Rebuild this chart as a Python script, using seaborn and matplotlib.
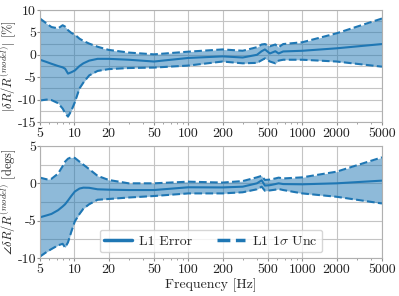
import matplotlib
matplotlib.use("Agg")
import matplotlib.pyplot as plt
import numpy as np
import seaborn as sns
from matplotlib.lines import Line2D
from matplotlib.ticker import FixedLocator, LogLocator, MultipleLocator, NullFormatter

# values
freq = [5, 5.7, 6.3, 7.2, 7.9, 8.3, 8.8, 9.4, 10.1, 11.1, 12, 13.5, 16, 20, 30,
        50, 100, 200, 300, 400, 440, 470, 520, 580, 620, 680, 1000, 2000, 5000]

mag_err = [-1.1, -1.6, -2.0, -2.5, -2.8, -3.1, -4.2, -3.9, -3.5, -2.5, -1.9, -1.3, -0.9, -0.9, -1.1,
           -1.5, -0.7, -0.35, -0.6, 0.0, 0.8, 1.2, 0.3, 0.8, 0.3, 0.75, 0.9, 1.45, 2.4]
mag_hi = [8.1, 7.0, 6.2, 5.9, 6.6, 6.3, 5.5, 4.9, 4.5, 3.6, 3.1, 2.5, 1.8, 1.1, 0.5,
          0.1, 0.7, 1.2, 0.9, 1.7, 2.3, 2.4, 1.9, 2.3, 1.7, 2.4, 2.8, 4.8, 8.1]
mag_lo = [-10.2, -10.0, -10.1, -10.8, -12.0, -13.0, -13.8, -12.5, -10.6, -7.5, -6.2, -4.6, -3.6, -3.2, -2.95,
          -2.85, -2.4, -1.5, -1.9, -1.8, -1.2, -0.8, -1.5, -1.9, -1.3, -1.1, -1.1, -1.5, -2.65]

ph_err = [-4.55, -4.3, -4.1, -3.6, -3.1, -2.8, -2.3, -1.7, -1.1, -0.7, -0.58, -0.6, -0.8, -0.85, -0.9,
          -0.9, -0.53, -0.55, -0.45, 0.0, 0.4, -0.3, -0.25, -0.1, 0.0, -0.1, -0.13, 0.0, 0.36]
ph_hi = [0.76, 0.54, 0.6, 1.3, 2.3, 2.9, 3.3, 3.48, 3.4, 2.9, 2.5, 1.9, 1.0, 0.45, 0.0,
         0.0, 0.22, 0.1, 0.3, 0.8, 1.0, 0.45, 0.5, 0.65, 0.76, 0.65, 0.8, 1.56, 3.48]
ph_lo = [-9.8, -9.2, -8.8, -8.3, -8.1, -8.6, -7.9, -6.5, -5.1, -4.1, -3.4, -2.8, -2.2, -2.1, -1.9,
         -1.7, -1.35, -1.35, -1.2, -0.8, -0.45, -1.0, -0.95, -0.85, -0.76, -0.9, -1.35, -1.8, -2.7]

xticks = [5, 10, 20, 50, 100, 200, 500, 1000, 2000, 5000]
xtick_labels = [str(t) for t in xticks]

BLUE = "#1f77b4"
GRID = "#c4c4c4"

sns.set_style("whitegrid")
plt.rcParams.update({
    "font.family": "serif",
    "font.serif": ["cmr10", "DejaVu Serif"],
    "mathtext.fontset": "cm",
    "axes.formatter.use_mathtext": False,
    "axes.unicode_minus": False,
    "font.size": 10,
    "axes.edgecolor": "#b0b0b0",
    "axes.linewidth": 0.8,
    "xtick.bottom": True,
    "ytick.left": True,
    "xtick.color": "#909090",
    "ytick.color": "#909090",
    "xtick.labelcolor": "#222222",
    "ytick.labelcolor": "#222222",
    "xtick.major.size": 2,
    "ytick.major.size": 2,
    "xtick.minor.size": 1.5,
    "ytick.minor.size": 0,
})


def draw_panel(ax, mid, lo, hi, ylim, yticks, ylabel):
    ax.fill_between(freq, lo, hi, color=BLUE, alpha=0.5, lw=0)
    sns.lineplot(x=freq, y=mid, ax=ax, color=BLUE, lw=1.5)
    sns.lineplot(x=freq, y=hi, ax=ax, color=BLUE, lw=1.5, linestyle="--")
    sns.lineplot(x=freq, y=lo, ax=ax, color=BLUE, lw=1.5, linestyle="--")
    ax.set_xscale("log")
    ax.set_xlim(5, 5000)
    ax.set_ylim(ylim)
    ax.xaxis.set_major_locator(FixedLocator(xticks))
    ax.set_xticklabels(xtick_labels)
    ax.xaxis.set_minor_locator(LogLocator(base=10, subs=np.arange(2, 10)))
    ax.xaxis.set_minor_formatter(NullFormatter())
    ax.set_yticks(yticks)
    ax.set_yticklabels([str(t) for t in yticks])
    ax.yaxis.set_minor_locator(MultipleLocator(2.5))
    ax.grid(which="major", axis="both", color=GRID, lw=0.8)
    ax.grid(which="minor", axis="y", color=GRID, lw=0.8)
    ax.set_ylabel(ylabel, fontsize=9)
    ax.yaxis.set_label_coords(-0.061, 0.5)
    ax.tick_params(axis="x", labelsize=10, pad=2)
    ax.tick_params(axis="y", labelsize=10, pad=0.8)


fig = plt.figure(figsize=(3.99, 2.96), dpi=100)
ax1 = fig.add_axes([0.1003, 0.5878, 0.857, 0.3784])
ax2 = fig.add_axes([0.1003, 0.1284, 0.857, 0.3784])

draw_panel(ax1, mag_err, mag_lo, mag_hi, (-15, 10), [-15, -10, -5, 0, 5, 10],
           r"$|\delta R/R^{(model)}|$ [%]")
draw_panel(ax2, ph_err, ph_lo, ph_hi, (-10, 5), [-10, -5, 0, 5],
           r"$\angle\delta R/R^{(model)}$ [degs]")
ax2.set_xlabel("Frequency [Hz]", fontsize=10, labelpad=2)

handles = [Line2D([], [], color=BLUE, lw=2.5),
           Line2D([], [], color=BLUE, lw=2.5, linestyle="--")]
ax2.legend(handles, ["L1 Error", r"L1 $1\sigma$ Unc"], loc="lower center", ncol=2,
           fontsize=10, handlelength=2.0, handletextpad=0.5, columnspacing=1.8,
           borderpad=0.35, frameon=True, borderaxespad=0.4)

fig.savefig("out.png", dpi=100)
